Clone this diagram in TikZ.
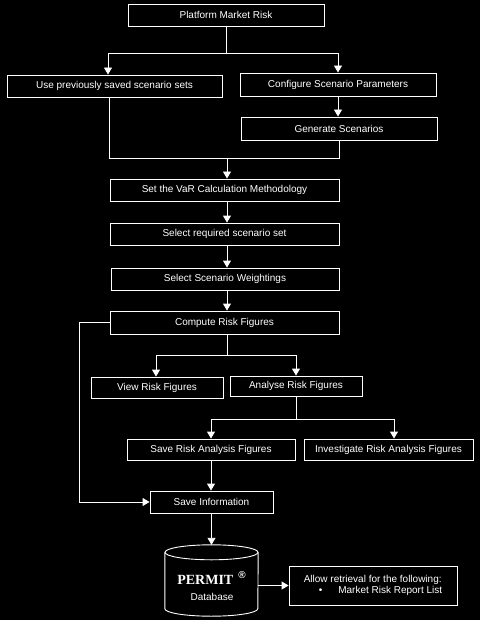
\documentclass[tikz,border=0pt]{standalone}
\usepackage{fontspec}
\setsansfont{Liberation Sans}
\newfontfamily\permitfont{Liberation Serif}
\usetikzlibrary{arrows.meta}

\begin{document}
\begin{tikzpicture}[x=1pt, y=-1pt,
	every node/.style={text=white, font=\sffamily\fontsize{10}{12}\selectfont},
	box/.style={draw=white, line width=0.9pt, minimum height=22pt, inner sep=0pt},
	wire/.style={draw=white, line width=0.9pt},
	arr/.style={wire, -{Triangle[width=8pt,length=7pt]}}]
		\fill[black] (0,0) rectangle (480,620);
		\useasboundingbox (0,0) rectangle (480,620);
		\node[box, minimum width=196] (platform) at (226,15) {Platform Market Risk};
		\node[box, minimum width=215] (saved) at (114.5,86) {Use previously saved scenario sets};
		\node[box, minimum width=196, minimum height=23] (config) at (338,84.5) {Configure Scenario Parameters};
		\node[box, minimum width=196, minimum height=23] (generate) at (339,128.5) {Generate Scenarios};
		\node[box, minimum width=229] (method) at (224.5,190) {Set the VaR Calculation Methodology};
		\node[box, minimum width=229] (select) at (224.5,234) {Select required scenario set};
		\node[box, minimum width=228] (weight) at (225,279) {Select Scenario Weightings};
		\node[box, minimum width=229, minimum height=23] (compute) at (224.5,322.5) {Compute Risk Figures};
		\node[box, minimum width=132, minimum height=21] (view) at (157,387.5) {View Risk Figures};
		\node[box, minimum width=132, minimum height=20] (analyse) at (296,386) {Analyse Risk Figures};
		\node[box, minimum width=168, minimum height=21] (saverisk) at (211,449.5) {Save Risk Analysis Figures};
		\node[box, minimum width=169, minimum height=21] (investigate) at (388.5,449.5) {Investigate Risk Analysis Figures};
		\node[box, minimum width=123] (saveinfo) at (211.5,502) {Save Information};
		\node[minimum width=93, minimum height=71, inner sep=0pt] (db) at (211.5,580.5) {};
		\draw[wire] ([yshift=-7.5pt]db.north west) -- ([yshift=7.5pt]db.south west)
			arc[start angle=180, end angle=360, x radius=46.5pt, y radius=7.5pt] -- ([yshift=-7.5pt]db.north east);
		\draw[wire] ([yshift=-7.5pt]db.north) ellipse[x radius=46.5pt, y radius=7.5pt];
		\node (permit) at (211.5,578) {\permitfont\bfseries\fontsize{14}{14}\selectfont PERMIT\hspace{5pt}\raisebox{6pt}{\sffamily\fontsize{10}{10}\selectfont ®}};
		\node (dbname) at (212,597) {Database};
		\node[box, minimum width=168, minimum height=39, align=left] (allow) at (373,585.5)
			{Allow retrieval for the following:\\[-1pt]\hspace*{15pt}\textbullet\hspace{16pt}Market Risk Report List};
		\coordinate (split1) at (226,53);
		\coordinate (join1) at (227,158);
		\coordinate (split2) at (227,355);
		\coordinate (split3) at (296,419);
		\coordinate (back) at (79,0);
		\draw[wire] (platform.south) -- (split1);
		\draw[arr] (split1) -| ([xshift=-6.5pt]saved.north);
		\draw[arr] (split1) -| (config.north);
		\draw[arr] (config.south) -- (config.south |- generate.north);
		\draw[wire] ([xshift=-5.5pt]saved.south) |- (join1);
		\draw[wire] (generate.south) |- (join1);
		\draw[arr] (join1) -- (join1 |- method.north);
		\draw[arr] (method.south -| join1) -- (select.north -| join1);
		\draw[arr] (select.south -| join1) -- (weight.north -| join1);
		\draw[arr] (weight.south -| join1) -- (compute.north -| join1);
		\draw[wire] (compute.south -| split2) -- (split2);
		\draw[arr] (split2) -| ([xshift=-1pt]view.north);
		\draw[arr] (split2) -| (analyse.north);
		\draw[wire] (analyse.south) -- (split3);
		\draw[arr] (split3) -| (saverisk.north);
		\draw[arr] (split3) -| ([xshift=5.5pt]investigate.north);
		\draw[arr] (saverisk.south) -- (saverisk.south |- saveinfo.north);
		\draw[arr] (compute.west) -- (compute.west -| back) |- (saveinfo.west);
		\draw[arr] (saveinfo.south) -- (db.north);
		\draw[arr] (db.east |- allow.west) -- (allow.west);
\end{tikzpicture}
\end{document}
